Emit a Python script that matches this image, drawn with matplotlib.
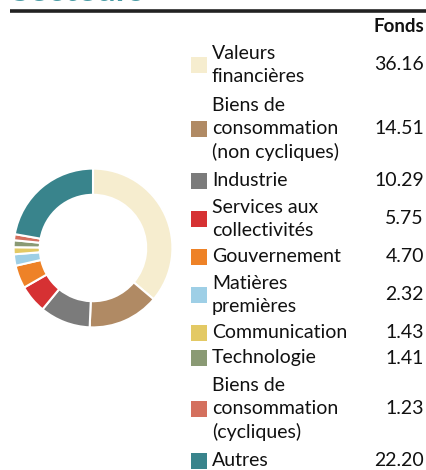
import matplotlib
matplotlib.use("Agg")
import matplotlib.pyplot as plt
from matplotlib.patches import Rectangle

plt.rcParams['font.family'] = ['Lato', 'DejaVu Sans']

labels = ["Valeurs\nfinancières", "Biens de\nconsommation\n(non cycliques)", "Industrie",
          "Services aux\ncollectivités", "Gouvernement", "Matières\npremières",
          "Communication", "Technologie", "Biens de\nconsommation\n(cycliques)", "Autres"]
values = [36.16, 14.51, 10.29, 5.75, 4.70, 2.32, 1.43, 1.41, 1.23, 22.20]
value_labels = ["36.16", "14.51", "10.29", "5.75", "4.70", "2.32", "1.43", "1.41", "1.23", "22.20"]
colors = ["#F6EDCF", "#B08A64", "#7B7B7B", "#D63133", "#EE8227", "#9ECFE6",
          "#E3C964", "#8A9A74", "#D4705E", "#39848C"]
header = "Fonds"
title = "Secteurs"

W, H = 427, 470
fig = plt.figure(figsize=(W / 100, H / 100), dpi=100)

# overlay axes in pixel coords
ov = fig.add_axes([0, 0, 1, 1])
ov.set_xlim(0, W)
ov.set_ylim(H, 0)
ov.axis('off')

# title cut off by the top edge, as in the reference
ov.text(10, 1.2, title, color="#4A9BA5", fontsize=25, fontweight='bold', va='baseline', ha='left')
ov.plot([10, W], [11, 11], color="#222222", lw=2.6, solid_capstyle='butt')

ov.text(424, 27, header, fontsize=13.5, fontweight='bold', ha='right', va='center', color="#111111")

centers = [65, 129, 181, 219, 257, 295, 333, 358, 409, 461]
for lab, val, col, cy in zip(labels, value_labels, colors, centers):
    ov.add_patch(Rectangle((191, cy - 8), 16, 16, facecolor=col, edgecolor='none'))
    ov.text(212, cy, lab, fontsize=14, ha='left', va='center', linespacing=1.4, color="#111111")
    ov.text(424, cy, val, fontsize=14, ha='right', va='center', color="#111111")

# donut
cx, cy, r = 93, 248, 81
pax = fig.add_axes([(cx - r) / W, (H - cy - r) / H, 2 * r / W, 2 * r / H])
pax.pie(values, colors=colors, startangle=90, counterclock=False, radius=1,
        wedgeprops=dict(width=0.33, edgecolor='white', linewidth=1.5))
pax.set_xlim(-1.02, 1.02)
pax.set_ylim(-1.02, 1.02)
pax.set_aspect('equal')
pax.axis('off')

fig.savefig("out.png", dpi=100)
